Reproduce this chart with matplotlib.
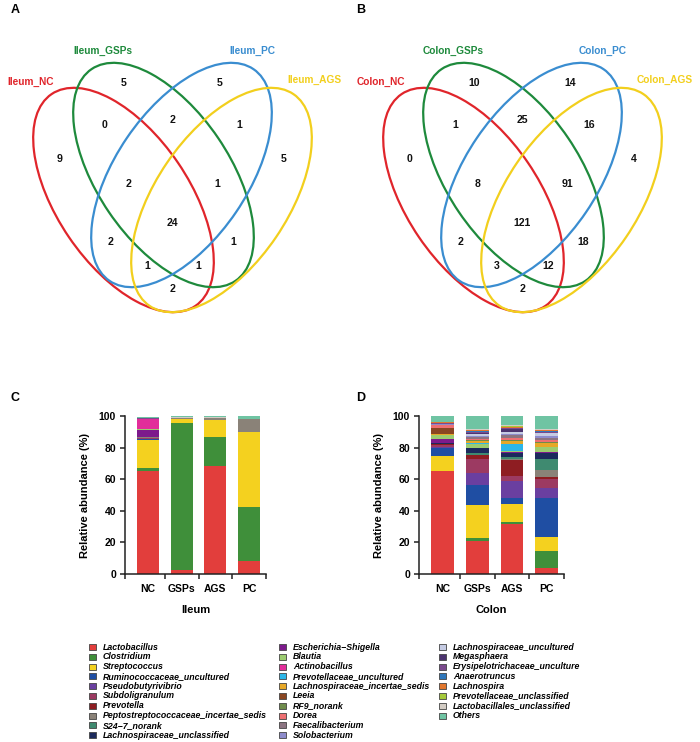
import matplotlib
matplotlib.use('Agg')
import matplotlib.pyplot as plt
from matplotlib.patches import Ellipse, Rectangle
import numpy as np

plt.rcParams['font.family'] = ['Liberation Sans', 'DejaVu Sans']
plt.rcParams['font.weight'] = 'bold'

# Venn data
venn_sets = ['NC', 'GSPs', 'PC', 'AGS']
venn_colors = ['#e0252b', '#1e8a3c', '#3a8dd0', '#f2cf1d']
venn_regions = ['NC', 'GSPs', 'PC', 'AGS', 'NC&GSPs', 'GSPs&PC', 'PC&AGS',
                'NC&GSPs&PC', 'GSPs&PC&AGS', 'all', 'NC&PC', 'GSPs&AGS',
                'NC&PC&AGS', 'NC&GSPs&AGS', 'NC&AGS']
ileum_venn = [9, 5, 5, 5, 0, 2, 1, 2, 1, 24, 2, 1, 1, 1, 2]
colon_venn = [0, 10, 14, 4, 1, 25, 16, 8, 91, 121, 2, 18, 3, 12, 2]

# bar data
groups = ['NC', 'GSPs', 'AGS', 'PC']
taxa = ['Lactobacillus', 'Clostridium', 'Streptococcus', 'Ruminococcaceae_uncultured',
        'Pseudobutyrivibrio', 'Subdoligranulum', 'Prevotella',
        'Peptostreptococcaceae_incertae_sedis', 'S24\u22127_norank',
        'Lachnospiraceae_unclassified', 'Escherichia\u2212Shigella', 'Blautia',
        'Actinobacillus', 'Prevotellaceae_uncultured', 'Lachnospiraceae_incertae_sedis',
        'Leeia', 'RF9_norank', 'Dorea', 'Faecalibacterium', 'Solobacterium',
        'Lachnospiraceae_uncultured', 'Megasphaera', 'Erysipelotrichaceae_unculture',
        'Anaerotruncus', 'Lachnospira', 'Prevotellaceae_unclassified',
        'Lactobacillales_unclassified', 'Others']
taxa_colors = ['#e23e3c', '#3f8f3a', '#f4d11f', '#1f4ea3', '#6a3fa0', '#9c3a62',
               '#8e1d22', '#8a8278', '#3f8a70', '#1c2a5c', '#7d1a8c', '#9ccc70',
               '#e22d9a', '#2cb6e8', '#e7a827', '#8a4622', '#6f8c4c', '#ee6f72',
               '#8c7481', '#8e8ccc', '#c5cbe3', '#4c3470', '#7b4a8e', '#2f77bb',
               '#e2772e', '#a5c93a', '#d3ccc4', '#6fc4a3']

# rows = taxa, columns = NC, GSPs, AGS, PC
ileum_abund = [
    [65, 2.7, 68.6, 8], [2, 93, 18.4, 34.7], [18, 2.7, 10.5, 47],
    [0.4, 0, 0, 0], [0.2, 0, 0, 0], [0.6, 0, 0, 0], [0, 0, 0, 0],
    [0.6, 0.3, 1.2, 8.4], [0, 0, 0, 0], [0, 0, 0, 0],
    [4.6, 0.2, 0.3, 0.3], [0.2, 0, 0, 0], [6.3, 0, 0, 0], [0, 0, 0, 0],
    [0.2, 0.1, 0, 0], [0, 0, 0, 0], [0, 0, 0, 0], [0.3, 0, 0, 0],
    [0, 0, 0, 0], [0, 0, 0, 0], [0, 0, 0, 0], [0, 0, 0, 0],
    [0.2, 0, 0, 0], [0, 0, 0, 0], [0, 0, 0, 0], [0, 0, 0, 0],
    [0.2, 0.4, 0.6, 0], [0.8, 0.6, 0.4, 1.6]]
colon_abund = [
    [65, 21.2, 31.5, 3.8], [0.3, 1.5, 1.3, 10.5], [9.7, 21, 11.3, 9],
    [5, 12.4, 3.8, 25], [0.3, 8, 10.9, 5.9], [1.5, 8.6, 3.4, 5.8],
    [0.5, 2.5, 9.9, 1.5], [0, 0.3, 0.5, 4.2], [0.2, 1.0, 1.2, 7.3],
    [0.5, 3, 2.7, 3.8], [2.7, 0.3, 0.6, 0.3], [2, 2.5, 0.6, 3],
    [0.2, 0, 0, 0.2], [0, 0.3, 4.5, 0.3], [0.5, 1.5, 2, 2],
    [4, 0.2, 0.2, 0.2], [0.3, 0.3, 0.3, 0.5], [1.5, 0.8, 1.5, 1.5],
    [0.3, 1, 1.5, 1.5], [0.2, 1.2, 1, 1.2], [0.2, 1.3, 1.3, 1.5],
    [0, 0.5, 1.5, 0.3], [0.5, 0.6, 0.8, 0.8], [0.2, 0.3, 0.3, 0.3],
    [0.3, 0.6, 0.4, 0.5], [0.2, 0.3, 0.8, 0.3], [0.1, 0.3, 0.2, 0.3],
    [4, 8.5, 6, 8.5]]

W, H = 700, 742
fig = plt.figure(figsize=(7, 7.42), dpi=100)

# overlay axes in pixel units for venn, letters and legend
over = fig.add_axes([0, 0, 1, 1])
over.set_xlim(0, W)
over.set_ylim(H, 0)
over.set_facecolor('none')
over.axis('off')

# ellipse geometry
ell_a, ell_b, ell_ang = 128, 66, 55.8
ell_pos = [(-49, 200, ell_ang), (-9, 175, ell_ang), (9, 175, -ell_ang), (49, 200, -ell_ang)]
set_label_pos = [(-141.5, 82), (-69.5, 51), (80, 51), (142, 80)]
region_pos = [(-112.5, 159), (-48.5, 83), (47.5, 83), (111.5, 159),
              (-67.5, 125), (0, 120), (66.5, 125), (-44.5, 184), (44.5, 184),
              (0, 223), (-61.5, 242), (60.5, 242), (-25.5, 266), (25.5, 266),
              (0, 289)]


def draw_venn(x0, prefix, counts):
    for (dx, cy, ang), col in zip(ell_pos, venn_colors):
        over.add_patch(Ellipse((x0 + dx, cy), 2 * ell_a, 2 * ell_b, angle=ang,
                               fill=False, edgecolor=col, lw=1.6))
    for name, col, (dx, y) in zip(venn_sets, venn_colors, set_label_pos):
        over.text(x0 + dx, y, prefix + '_' + name, color=col, fontsize=7.3,
                  ha='center', va='center', fontweight='bold')
    for n, (dx, y) in zip(counts, region_pos):
        over.text(x0 + dx, y, str(n), fontsize=7.6, ha='center', va='center',
                  fontweight='bold', color='#111111')


draw_venn(172.5, 'Ileum', ileum_venn)
draw_venn(522.5, 'Colon', colon_venn)

for lab, x, y in [('A', 15, 10), ('B', 361, 10), ('C', 15, 398), ('D', 361, 398)]:
    over.text(x, y, lab, fontsize=9, fontweight='bold', ha='center', va='center')


def stacked(rect, abund, xlabel):
    ax = fig.add_axes(rect)
    x = np.arange(len(groups))
    bottom = np.zeros(len(groups))
    for vals, col in zip(abund, taxa_colors):
        vals = np.array(vals, dtype=float)
        ax.bar(x, vals, 0.65, bottom=bottom, color=col, linewidth=0)
        bottom += vals
    ax.set_xlim(-0.68, 3.5)
    ax.set_ylim(0, 100)
    ax.set_yticks(np.arange(0, 101, 20))
    ax.set_xticks(x)
    ax.set_xticklabels(groups)
    ax.set_xticks([-0.68, 0.5, 1.5, 2.5, 3.5], minor=True)
    ax.tick_params(axis='x', which='major', length=0, pad=7, labelsize=7.5)
    ax.tick_params(axis='x', which='minor', length=3.5, width=1.1, color='#222222')
    ax.tick_params(axis='y', length=3.5, width=1.1, pad=3, labelsize=7.5, color='#222222')
    for s in ['top', 'right']:
        ax.spines[s].set_visible(False)
    for s in ['left', 'bottom']:
        ax.spines[s].set_linewidth(1.1)
        ax.spines[s].set_color('#222222')
    ax.set_ylabel('Relative abundance (%)', fontsize=8, fontweight='bold', labelpad=6)
    ax.set_xlabel(xlabel, fontsize=8, fontweight='bold', labelpad=8)
    for t in ax.get_xticklabels() + ax.get_yticklabels():
        t.set_fontweight('bold')
    return ax


stacked([125 / W, 1 - 574 / H, 141 / W, 158 / H], ileum_abund, 'Ileum')
stacked([419 / W, 1 - 574 / H, 145 / W, 158 / H], colon_abund, 'Colon')

# legend drawn in pixel units
col_x = [89, 279, 439]
row_y0, row_dy = 647, 9.8
for i, (name, col) in enumerate(zip(taxa, taxa_colors)):
    c, r = divmod(i, 10)
    y = row_y0 + r * row_dy
    over.add_patch(Rectangle((col_x[c], y - 3), 6.5, 6, facecolor=col,
                             edgecolor='#444444', lw=0.6))
    over.text(col_x[c] + 14, y, name, fontsize=6.3, fontstyle='italic',
              fontweight='bold', va='center', ha='left')

fig.savefig('out.png', dpi=100)
